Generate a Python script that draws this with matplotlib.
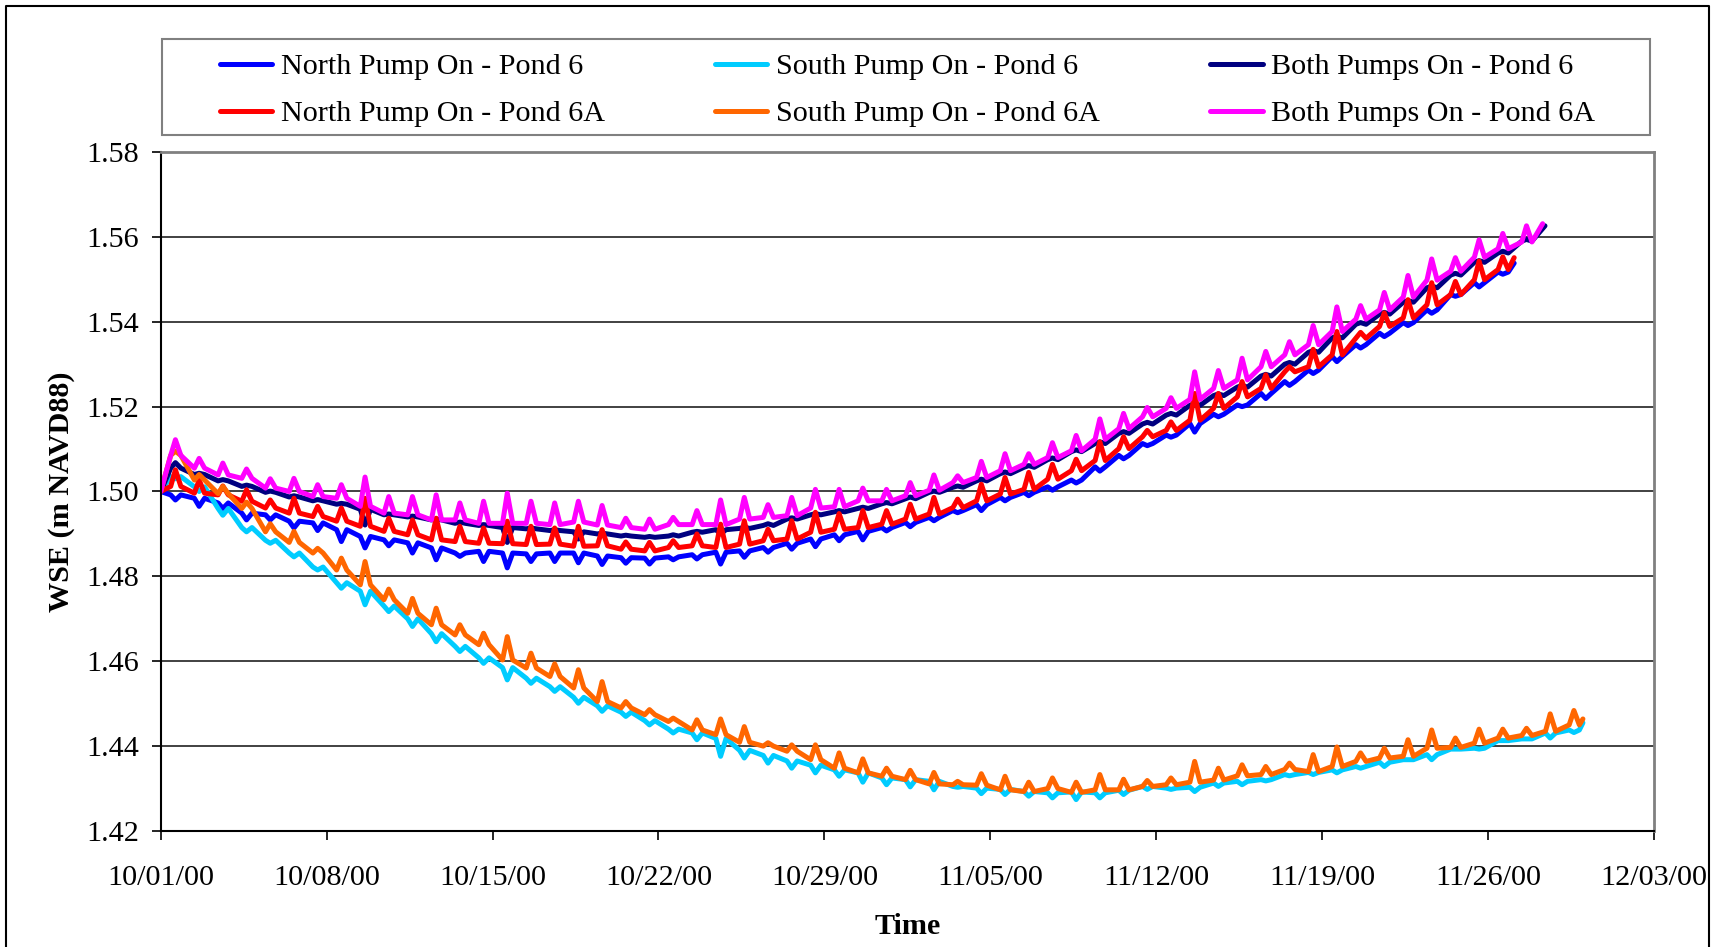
import numpy as np
import pandas as pd
import matplotlib
matplotlib.use("Agg")
import matplotlib.pyplot as plt
import matplotlib.dates as mdates
from matplotlib.patches import Rectangle
from matplotlib.lines import Line2D

plt.rcParams['font.family'] = ['Liberation Serif', 'DejaVu Serif']

START = pd.Timestamp('2000-10-01')
START_LEVEL = 1.50

# daily level just before the pump pulse, and the level at the pulse
north6_base = [1.4992, 1.4984, 1.4973, 1.4949, 1.4945, 1.4930, 1.4926, 1.4910, 1.4894, 1.4886,
               1.4879, 1.4867, 1.4855, 1.4859, 1.4855, 1.4853, 1.4855, 1.4855, 1.4848, 1.4844,
               1.4843, 1.4846, 1.4851, 1.4857, 1.4860, 1.4868, 1.4878, 1.4888, 1.4898, 1.4906,
               1.4915, 1.4927, 1.4939, 1.4955, 1.4969, 1.4986, 1.4998, 1.5011, 1.5027, 1.5058,
               1.5085, 1.5113, 1.5133, 1.5160, 1.5182, 1.5204, 1.5231, 1.5259, 1.5286, 1.5318,
               1.5346, 1.5373, 1.5398, 1.5428, 1.5464, 1.5492, 1.5517]
north6_pulse = [1.4980, 1.4965, 1.4960, 1.4933, 1.4933, 1.4914, 1.4908, 1.4882, 1.4867, 1.4872,
                1.4855, 1.4839, 1.4847, 1.4835, 1.4820, 1.4835, 1.4835, 1.4832, 1.4828, 1.4831,
                1.4829, 1.4839, 1.4841, 1.4829, 1.4845, 1.4857, 1.4864, 1.4870, 1.4884, 1.4886,
                1.4907, 1.4917, 1.4931, 1.4950, 1.4955, 1.4978, 1.4990, 1.5003, 1.5020, 1.5048,
                1.5077, 1.5108, 1.5128, 1.5140, 1.5176, 1.5200, 1.5219, 1.5250, 1.5278, 1.5306,
                1.5338, 1.5365, 1.5391, 1.5420, 1.5460, 1.5482, 1.5512]
north6_end = (57.1, 1.5538)

south6_base = [1.5035, 1.5011, 1.4960, 1.4915, 1.4885, 1.4855, 1.4822, 1.4785, 1.4765, 1.4730,
               1.4700, 1.4665, 1.4635, 1.4608, 1.4585, 1.4560, 1.4540, 1.4515, 1.4495, 1.4480,
               1.4460, 1.4440, 1.4431, 1.4418, 1.4390, 1.4378, 1.4365, 1.4355, 1.4344, 1.4337,
               1.4325, 1.4321, 1.4317, 1.4305, 1.4301, 1.4298, 1.4293, 1.4290, 1.4292, 1.4290,
               1.4296, 1.4305, 1.4301, 1.4303, 1.4313, 1.4317, 1.4321, 1.4333, 1.4338, 1.4344,
               1.4352, 1.4362, 1.4368, 1.4380, 1.4393, 1.4395, 1.4413, 1.4417, 1.4431, 1.4438]
south6_pulse = [1.5030, 1.5000, 1.4944, 1.4905, 1.4878, 1.4846, 1.4815, 1.4772, 1.4733, 1.4717,
                1.4682, 1.4646, 1.4623, 1.4595, 1.4556, 1.4548, 1.4529, 1.4501, 1.4482, 1.4470,
                1.4450, 1.4431, 1.4415, 1.4376, 1.4372, 1.4360, 1.4348, 1.4337, 1.4329, 1.4315,
                1.4309, 1.4304, 1.4297, 1.4303, 1.4288, 1.4286, 1.4282, 1.4278, 1.4274, 1.4278,
                1.4286, 1.4298, 1.4298, 1.4293, 1.4305, 1.4309, 1.4318, 1.4330, 1.4333, 1.4337,
                1.4348, 1.4352, 1.4368, 1.4368, 1.4393, 1.4393, 1.4413, 1.4417, 1.4419, 1.4432]
south6_end = (60.0, 1.4455)

both6_base = [1.5055, 1.5040, 1.5025, 1.5012, 1.4998, 1.4987, 1.4978, 1.4970, 1.4958, 1.4945,
              1.4940, 1.4933, 1.4925, 1.4920, 1.4915, 1.4912, 1.4908, 1.4905, 1.4900, 1.4895,
              1.4892, 1.4895, 1.4904, 1.4910, 1.4913, 1.4920, 1.4935, 1.4945, 1.4952, 1.4960,
              1.4971, 1.4983, 1.4998, 1.5010, 1.5025, 1.5042, 1.5057, 1.5075, 1.5094, 1.5113,
              1.5137, 1.5159, 1.5180, 1.5203, 1.5226, 1.5246, 1.5272, 1.5300, 1.5328, 1.5362,
              1.5394, 1.5418, 1.5446, 1.5480, 1.5510, 1.5540, 1.5562, 1.5590]
both6_pulse = [1.5068, 1.5043, 1.5028, 1.5015, 1.5001, 1.4990, 1.4981, 1.4972, 1.4921, 1.4947,
               1.4942, 1.4935, 1.4928, 1.4922, 1.4880, 1.4914, 1.4910, 1.4888, 1.4902, 1.4897,
               1.4894, 1.4898, 1.4906, 1.4900, 1.4916, 1.4924, 1.4938, 1.4948, 1.4955, 1.4963,
               1.4974, 1.4987, 1.5001, 1.5013, 1.5029, 1.5046, 1.5061, 1.5079, 1.5098, 1.5117,
               1.5141, 1.5163, 1.5184, 1.5207, 1.5230, 1.5250, 1.5276, 1.5304, 1.5332, 1.5366,
               1.5398, 1.5422, 1.5450, 1.5484, 1.5514, 1.5544, 1.5566, 1.5594]
both6_end = (58.4, 1.5626)

north6a_base = [1.5012, 1.4996, 1.4992, 1.4977, 1.4961, 1.4949, 1.4941, 1.4930, 1.4918, 1.4906,
                1.4898, 1.4886, 1.4882, 1.4878, 1.4877, 1.4875, 1.4876, 1.4871, 1.4872, 1.4864,
                1.4860, 1.4868, 1.4872, 1.4868, 1.4876, 1.4884, 1.4888, 1.4904, 1.4911, 1.4915,
                1.4923, 1.4935, 1.4947, 1.4962, 1.4978, 1.4994, 1.5005, 1.5029, 1.5049, 1.5073,
                1.5101, 1.5129, 1.5144, 1.5168, 1.5196, 1.5223, 1.5243, 1.5282, 1.5294, 1.5322,
                1.5361, 1.5389, 1.5409, 1.5440, 1.5464, 1.5499, 1.5523]
north6a_pulse = [1.5051, 1.5027, 1.5013, 1.5004, 1.4980, 1.4984, 1.4965, 1.4961, 1.4984, 1.4937,
                 1.4933, 1.4937, 1.4918, 1.4914, 1.4930, 1.4918, 1.4914, 1.4918, 1.4910, 1.4881,
                 1.4880, 1.4884, 1.4900, 1.4923, 1.4931, 1.4911, 1.4931, 1.4951, 1.4948, 1.4955,
                 1.4955, 1.4970, 1.4986, 1.4982, 1.5017, 1.5033, 1.5045, 1.5064, 1.5076, 1.5117,
                 1.5129, 1.5144, 1.5164, 1.5231, 1.5231, 1.5259, 1.5275, 1.5294, 1.5335, 1.5377,
                 1.5375, 1.5421, 1.5452, 1.5492, 1.5495, 1.5543, 1.5553]
north6a_end = (57.1, 1.5551)

south6a_base = [1.5085, 1.5027, 1.4995, 1.4960, 1.4905, 1.4880, 1.4855, 1.4815, 1.4780, 1.4745,
                1.4713, 1.4686, 1.4662, 1.4639, 1.4603, 1.4584, 1.4564, 1.4537, 1.4505, 1.4490,
                1.4474, 1.4458, 1.4438, 1.4427, 1.4409, 1.4400, 1.4388, 1.4368, 1.4348, 1.4337,
                1.4329, 1.4321, 1.4311, 1.4309, 1.4308, 1.4297, 1.4293, 1.4300, 1.4291, 1.4297,
                1.4297, 1.4305, 1.4309, 1.4315, 1.4320, 1.4330, 1.4333, 1.4345, 1.4340, 1.4352,
                1.4364, 1.4372, 1.4376, 1.4395, 1.4397, 1.4407, 1.4419, 1.4425, 1.4435, 1.4450]
south6a_pulse = [1.5095, 1.5040, 1.5012, 1.4975, 1.4924, 1.4906, 1.4866, 1.4843, 1.4835, 1.4770,
                 1.4748, 1.4725, 1.4686, 1.4666, 1.4658, 1.4619, 1.4594, 1.4580, 1.4552, 1.4505,
                 1.4486, 1.4466, 1.4462, 1.4464, 1.4446, 1.4408, 1.4403, 1.4403, 1.4384, 1.4370,
                 1.4348, 1.4343, 1.4338, 1.4317, 1.4335, 1.4329, 1.4315, 1.4325, 1.4315, 1.4333,
                 1.4322, 1.4319, 1.4325, 1.4364, 1.4348, 1.4356, 1.4352, 1.4360, 1.4380, 1.4398,
                 1.4384, 1.4395, 1.4415, 1.4438, 1.4419, 1.4440, 1.4440, 1.4442, 1.4476, 1.4484]
south6a_end = (60.0, 1.4464)

both6a_base = [1.5085, 1.5055, 1.5039, 1.5031, 1.5008, 1.5000, 1.4988, 1.4984, 1.4965, 1.4949,
               1.4945, 1.4933, 1.4933, 1.4925, 1.4925, 1.4925, 1.4922, 1.4928, 1.4921, 1.4915,
               1.4911, 1.4922, 1.4922, 1.4922, 1.4935, 1.4939, 1.4943, 1.4961, 1.4964, 1.4978,
               1.4978, 1.4990, 1.5003, 1.5021, 1.5033, 1.5049, 1.5064, 1.5080, 1.5096, 1.5123,
               1.5148, 1.5176, 1.5196, 1.5217, 1.5243, 1.5263, 1.5294, 1.5322, 1.5346, 1.5377,
               1.5406, 1.5428, 1.5458, 1.5498, 1.5519, 1.5552, 1.5572, 1.5588]
both6a_pulse = [1.5122, 1.5078, 1.5067, 1.5053, 1.5030, 1.5031, 1.5016, 1.5016, 1.5034, 1.4988,
                1.4988, 1.4992, 1.4973, 1.4977, 1.4996, 1.4977, 1.4973, 1.4977, 1.4967, 1.4937,
                1.4935, 1.4939, 1.4955, 1.4980, 1.4986, 1.4969, 1.4986, 1.5005, 1.5005, 1.5008,
                1.5005, 1.5021, 1.5039, 1.5037, 1.5071, 1.5089, 1.5089, 1.5115, 1.5132, 1.5171,
                1.5184, 1.5198, 1.5221, 1.5282, 1.5285, 1.5314, 1.5330, 1.5353, 1.5391, 1.5435,
                1.5438, 1.5469, 1.5509, 1.5548, 1.5551, 1.5593, 1.5608, 1.5626]
both6a_end = (58.3, 1.5631)

labels = ['North Pump On - Pond 6', 'South Pump On - Pond 6', 'Both Pumps On - Pond 6',
          'North Pump On - Pond 6A', 'South Pump On - Pond 6A', 'Both Pumps On - Pond 6A']
colors = ['#0000FF', '#00CCFF', '#000080', '#FF0000', '#FF6600', '#FF00FF']
series = [(north6_base, north6_pulse, north6_end),
          (south6_base, south6_pulse, south6_end),
          (both6_base, both6_pulse, both6_end),
          (north6a_base, north6a_pulse, north6a_end),
          (south6a_base, south6a_pulse, south6a_end),
          (both6a_base, both6a_pulse, both6a_end)]


def build_series(base, pulse, end):
    # pulse arrives mid-day; level sits at base before and after it
    t = [0.0]
    v = [START_LEVEL]
    for d, (b, p) in enumerate(zip(base, pulse)):
        t += [d + 0.42, d + 0.62, d + 0.85]
        v += [b, p, b]
    t.append(end[0])
    v.append(end[1])
    dates = START + pd.to_timedelta(np.array(t), unit='D')
    return dates, np.array(v)


FS = 21.7
fig = plt.figure(figsize=(17.19, 9.47), dpi=100)
ax = fig.add_axes([0.0935, 0.1225, 0.8687, 0.717])

lines = []
for (base, pulse, end), lab, col in zip(series, labels, colors):
    x, y = build_series(base, pulse, end)
    ln, = ax.plot(x, y, color=col, lw=3.6, label=lab,
                  solid_joinstyle='round', solid_capstyle='round')
    lines.append(ln)

ax.set_ylim(1.42, 1.58)
ax.set_yticks(np.arange(1.42, 1.5801, 0.02))
ax.yaxis.set_major_formatter(plt.FormatStrFormatter('%.2f'))
ax.set_xlim(pd.Timestamp('2000-10-01'), pd.Timestamp('2000-12-03'))
ax.set_xticks(pd.date_range('2000-10-01', '2000-12-03', freq='7D'))
ax.xaxis.set_major_formatter(mdates.DateFormatter('%m/%d/%y'))

ax.grid(axis='y', color='#333333', lw=1.3)
ax.set_axisbelow(True)
for side in ['top', 'right']:
    ax.spines[side].set_color('#808080')
    ax.spines[side].set_linewidth(2)
for side in ['left', 'bottom']:
    ax.spines[side].set_color('black')
    ax.spines[side].set_linewidth(1.5)

ax.tick_params(axis='both', direction='out', length=6.5, width=1.2, labelsize=FS)
ax.tick_params(axis='y', pad=9)
ax.tick_params(axis='x', pad=18)

ax.set_ylabel('WSE (m NAVD88)', fontsize=FS, fontweight='bold', va='center')
ax.yaxis.set_label_coords(-0.0665, 0.5)
ax.set_xlabel('Time', fontsize=FS, fontweight='bold', va='center')
ax.xaxis.set_label_coords(0.5, -0.1405)

# legend laid out row by row like the original
order = [0, 3, 1, 4, 2, 5]
fig.legend([lines[i] for i in order], [labels[i] for i in order],
           loc='upper left', bbox_to_anchor=(0.1277, 0.9438), ncol=3,
           frameon=False, fontsize=FS, handlelength=1.75, handletextpad=0.28,
           columnspacing=3.65, labelspacing=0.66, borderpad=0, borderaxespad=0)
fig.add_artist(Rectangle((0.0942, 0.8574), 0.8656, 0.1014, transform=fig.transFigure,
                         fill=False, edgecolor='#808080', lw=1.5))

# outer chart border
fig.add_artist(Line2D([0.0032, 0.0032, 0.9942, 0.9942], [0.0, 0.9937, 0.9937, 0.0],
                      transform=fig.transFigure, color='black', lw=1.5))

fig.savefig('out.png', dpi=100)
